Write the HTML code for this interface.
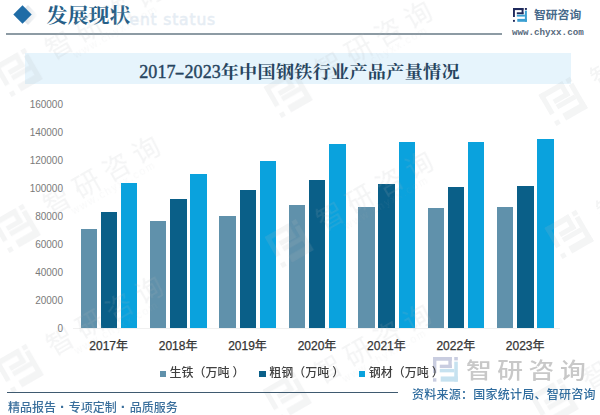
<!DOCTYPE html>
<html><head><meta charset="utf-8"><style>
*{margin:0;padding:0;box-sizing:border-box}
html,body{width:600px;height:415px;overflow:hidden;background:#fff}
body{position:relative;font-family:"Liberation Sans","Noto Sans CJK SC",sans-serif}
.abs{position:absolute}
.bar{position:absolute;width:16.4px}
.yl{position:absolute;left:20px;width:43px;text-align:right;font-size:10px;line-height:14px;color:#7a7a7a;font-family:"Liberation Sans",sans-serif}
.xl{position:absolute;top:339px;width:60px;text-align:center;font-size:12px;line-height:14px;color:#333;-webkit-text-stroke:0.25px #333;font-family:"Liberation Sans","Noto Sans CJK SC",sans-serif}
.lg{position:absolute;z-index:2;top:365px;font-family:"Liberation Sans","Noto Sans CJK SC",sans-serif;font-weight:500;font-size:12px;line-height:16px;color:#404040;white-space:nowrap}
.lg i{position:absolute;left:0;top:5.5px;width:6.6px;height:6.6px}
.lg span{position:absolute;left:10px;top:0}
.lg b{font-weight:inherit;margin-left:3px}
</style></head><body>
<!-- header -->
<div class="abs" style="left:21px;top:7.5px;width:14px;height:14px;background:linear-gradient(to top right,#d9dee4 0%,#e3e7eb 45%,rgba(255,255,255,0) 100%);transform:rotate(45deg)"></div>
<div class="abs" style="left:15.5px;top:8px;width:13px;height:13px;background:#1f6ca6;transform:rotate(45deg)"></div>
<div class="abs" style="left:129.5px;top:10.5px;font-family:'DejaVu Sans',sans-serif;font-size:15.5px;line-height:18px;letter-spacing:0.85px;color:#e6edf4;-webkit-text-stroke:0.5px #e6edf4;white-space:nowrap">ent status</div>
<div class="abs" style="left:46.5px;top:4.1px;font-family:'Liberation Serif','Noto Serif CJK SC',serif;font-weight:700;font-size:21px;line-height:26px;color:#275f88;white-space:nowrap;transform:scaleY(0.96);transform-origin:0 6px">发展现状</div>
<div class="abs" style="left:6px;top:33.2px;width:496px;height:1.5px;background:#8d9ba4"></div>
<!-- logo top right -->
<svg class="abs" style="left:513px;top:8px" width="14" height="14" viewBox="0 0 14 14">
<g fill="#1f2a5c"><rect x="0" y="0" width="10.5" height="2.1"/><rect x="0" y="0" width="1.9" height="9"/><rect x="8.6" y="0" width="1.9" height="6.2"/><rect x="3.8" y="4.3" width="6.7" height="1.9"/><rect x="0" y="11.9" width="1.9" height="1.9"/><rect x="11.9" y="0" width="2" height="1.9"/></g>
<g fill="#3a9fd2"><rect x="11.9" y="2.6" width="2" height="11.2"/><rect x="4.3" y="10.9" width="9.6" height="2.9"/><rect x="3.8" y="6.7" width="8.1" height="1.9"/></g>
</svg>
<div class="abs" style="left:534px;top:6px;font-family:'Liberation Sans','Noto Sans CJK SC',sans-serif;font-weight:700;font-size:11.8px;line-height:18px;color:#46698a;white-space:nowrap">智研咨询</div>
<div class="abs" style="left:512px;top:26px;font-family:'Liberation Mono',monospace;font-weight:bold;font-size:9.2px;line-height:14px;color:#56697c;white-space:nowrap">www.chyxx.com</div>
<!-- title band -->
<div class="abs" style="left:24.5px;top:53px;width:546.5px;height:31px;background:#e6f4fc"></div>
<div class="abs" style="left:139.3px;top:61px;font-family:'Liberation Serif','Noto Serif CJK SC',serif;font-weight:700;font-size:18.1px;line-height:24px;color:#27445e;white-space:nowrap"><span style="font-family:'Liberation Serif',serif;font-weight:normal;-webkit-text-stroke:0.4px #27445e;position:relative;top:-1.3px">2017<span style="display:inline-block;width:9.05px;text-align:center;transform:scaleX(1.6)">-</span>2023</span><span style="display:inline-block;letter-spacing:0.3px;transform:scaleY(0.92);transform-origin:0 4px">年中国钢铁行业产品产量情况</span></div>
<!-- chart -->
<div class="yl" style="top:321.5px">0</div>
<div class="yl" style="top:293.5px">20000</div>
<div class="yl" style="top:265.5px">40000</div>
<div class="yl" style="top:237.5px">60000</div>
<div class="yl" style="top:209.5px">80000</div>
<div class="yl" style="top:181.5px">100000</div>
<div class="yl" style="top:153.5px">120000</div>
<div class="yl" style="top:125.5px">140000</div>
<div class="yl" style="top:97.5px">160000</div>

<div class="abs" style="left:73px;top:328.3px;width:487px;height:1px;background:#f0f0f0"></div>
<div class="bar" style="left:80.50px;top:229.33px;height:98.97px;background:#6091ab"></div>
<div class="bar" style="left:100.70px;top:212.48px;height:115.82px;background:#0a5f88"></div>
<div class="bar" style="left:120.90px;top:182.59px;height:145.71px;background:#0aa2dd"></div>
<div class="bar" style="left:149.92px;top:220.93px;height:107.37px;background:#6091ab"></div>
<div class="bar" style="left:170.12px;top:199.04px;height:129.26px;background:#0a5f88"></div>
<div class="bar" style="left:190.32px;top:174.36px;height:153.94px;background:#0aa2dd"></div>
<div class="bar" style="left:219.34px;top:215.60px;height:112.70px;background:#6091ab"></div>
<div class="bar" style="left:239.54px;top:189.56px;height:138.74px;background:#0a5f88"></div>
<div class="bar" style="left:259.74px;top:160.57px;height:167.73px;background:#0aa2dd"></div>
<div class="bar" style="left:288.76px;top:204.71px;height:123.59px;background:#6091ab"></div>
<div class="bar" style="left:308.96px;top:180.03px;height:148.27px;background:#0a5f88"></div>
<div class="bar" style="left:329.16px;top:143.81px;height:184.49px;background:#0aa2dd"></div>
<div class="bar" style="left:358.18px;top:207.35px;height:120.95px;background:#6091ab"></div>
<div class="bar" style="left:378.38px;top:184.48px;height:143.82px;background:#0a5f88"></div>
<div class="bar" style="left:398.58px;top:142.17px;height:186.13px;background:#0aa2dd"></div>
<div class="bar" style="left:427.60px;top:208.01px;height:120.29px;background:#6091ab"></div>
<div class="bar" style="left:447.80px;top:186.55px;height:141.75px;background:#0a5f88"></div>
<div class="bar" style="left:468.00px;top:141.66px;height:186.64px;background:#0aa2dd"></div>
<div class="bar" style="left:497.02px;top:207.01px;height:121.29px;background:#6091ab"></div>
<div class="bar" style="left:517.22px;top:186.39px;height:141.91px;background:#0a5f88"></div>
<div class="bar" style="left:537.42px;top:138.55px;height:189.75px;background:#0aa2dd"></div>

<div class="xl" style="left:78.7px">2017年</div>
<div class="xl" style="left:148.1px">2018年</div>
<div class="xl" style="left:217.5px">2019年</div>
<div class="xl" style="left:287.0px">2020年</div>
<div class="xl" style="left:356.4px">2021年</div>
<div class="xl" style="left:425.8px">2022年</div>
<div class="xl" style="left:495.2px">2023年</div>

<div class="lg" style="left:159.5px"><i style="background:#6091ab"></i><span>生铁（万吨<b>）</b></span></div>
<div class="lg" style="left:259.3px"><i style="background:#0a5f88"></i><span>粗钢（万吨<b>）</b></span></div>
<div class="lg" style="left:358.8px"><i style="background:#0aa2dd"></i><span>钢材（万吨<b>）</b></span></div>
<!-- diagonal watermarks -->
<svg class="abs" style="left:0;top:0" width="600" height="415" viewBox="0 0 600 415">
<g fill="#b4b8bc" opacity="0.15">
<g transform="translate(19,72) rotate(-30)"><g transform="translate(-19,-18) scale(2.6)"><g ><rect x="0" y="0" width="10.5" height="2.1"/><rect x="0" y="0" width="1.9" height="9"/><rect x="8.6" y="0" width="1.9" height="6.2"/><rect x="3.8" y="4.3" width="6.7" height="1.9"/><rect x="0" y="11.9" width="1.9" height="1.9"/><rect x="11.9" y="0" width="2" height="1.9"/></g>
<g ><rect x="11.9" y="2.6" width="2" height="11.2"/><rect x="4.3" y="10.9" width="9.6" height="2.9"/><rect x="3.8" y="6.7" width="8.1" height="1.9"/></g></g><text x="34.7" y="7" font-family="Liberation Sans, Noto Sans CJK SC, sans-serif" font-weight="400" font-size="27" letter-spacing="7.2">智研咨询</text><text x="56" y="17" font-family="Liberation Sans, sans-serif" font-size="10.5" letter-spacing="1.6" opacity="0.6">www.chyxx.com</text></g>
<g transform="translate(17,228) rotate(-30)"><g transform="translate(-19,-18) scale(2.6)"><g ><rect x="0" y="0" width="10.5" height="2.1"/><rect x="0" y="0" width="1.9" height="9"/><rect x="8.6" y="0" width="1.9" height="6.2"/><rect x="3.8" y="4.3" width="6.7" height="1.9"/><rect x="0" y="11.9" width="1.9" height="1.9"/><rect x="11.9" y="0" width="2" height="1.9"/></g>
<g ><rect x="11.9" y="2.6" width="2" height="11.2"/><rect x="4.3" y="10.9" width="9.6" height="2.9"/><rect x="3.8" y="6.7" width="8.1" height="1.9"/></g></g><text x="34.7" y="7" font-family="Liberation Sans, Noto Sans CJK SC, sans-serif" font-weight="400" font-size="27" letter-spacing="7.2">智研咨询</text><text x="56" y="17" font-family="Liberation Sans, sans-serif" font-size="10.5" letter-spacing="1.6" opacity="0.6">www.chyxx.com</text></g>
<g transform="translate(20,368) rotate(-30)"><g transform="translate(-19,-18) scale(2.6)"><g ><rect x="0" y="0" width="10.5" height="2.1"/><rect x="0" y="0" width="1.9" height="9"/><rect x="8.6" y="0" width="1.9" height="6.2"/><rect x="3.8" y="4.3" width="6.7" height="1.9"/><rect x="0" y="11.9" width="1.9" height="1.9"/><rect x="11.9" y="0" width="2" height="1.9"/></g>
<g ><rect x="11.9" y="2.6" width="2" height="11.2"/><rect x="4.3" y="10.9" width="9.6" height="2.9"/><rect x="3.8" y="6.7" width="8.1" height="1.9"/></g></g><text x="34.7" y="7" font-family="Liberation Sans, Noto Sans CJK SC, sans-serif" font-weight="400" font-size="27" letter-spacing="7.2">智研咨询</text><text x="56" y="17" font-family="Liberation Sans, sans-serif" font-size="10.5" letter-spacing="1.6" opacity="0.6">www.chyxx.com</text></g>
<g transform="translate(289,93) rotate(-30)"><g transform="translate(-19,-18) scale(2.6)"><g ><rect x="0" y="0" width="10.5" height="2.1"/><rect x="0" y="0" width="1.9" height="9"/><rect x="8.6" y="0" width="1.9" height="6.2"/><rect x="3.8" y="4.3" width="6.7" height="1.9"/><rect x="0" y="11.9" width="1.9" height="1.9"/><rect x="11.9" y="0" width="2" height="1.9"/></g>
<g ><rect x="11.9" y="2.6" width="2" height="11.2"/><rect x="4.3" y="10.9" width="9.6" height="2.9"/><rect x="3.8" y="6.7" width="8.1" height="1.9"/></g></g><text x="34.7" y="7" font-family="Liberation Sans, Noto Sans CJK SC, sans-serif" font-weight="400" font-size="27" letter-spacing="7.2">智研咨询</text><text x="56" y="17" font-family="Liberation Sans, sans-serif" font-size="10.5" letter-spacing="1.6" opacity="0.6">www.chyxx.com</text></g>
<g transform="translate(290,243) rotate(-30)"><g transform="translate(-19,-18) scale(2.6)"><g ><rect x="0" y="0" width="10.5" height="2.1"/><rect x="0" y="0" width="1.9" height="9"/><rect x="8.6" y="0" width="1.9" height="6.2"/><rect x="3.8" y="4.3" width="6.7" height="1.9"/><rect x="0" y="11.9" width="1.9" height="1.9"/><rect x="11.9" y="0" width="2" height="1.9"/></g>
<g ><rect x="11.9" y="2.6" width="2" height="11.2"/><rect x="4.3" y="10.9" width="9.6" height="2.9"/><rect x="3.8" y="6.7" width="8.1" height="1.9"/></g></g><text x="34.7" y="7" font-family="Liberation Sans, Noto Sans CJK SC, sans-serif" font-weight="400" font-size="27" letter-spacing="7.2">智研咨询</text><text x="56" y="17" font-family="Liberation Sans, sans-serif" font-size="10.5" letter-spacing="1.6" opacity="0.6">www.chyxx.com</text></g>
<g transform="translate(288,396) rotate(-30)"><g transform="translate(-19,-18) scale(2.6)"><g ><rect x="0" y="0" width="10.5" height="2.1"/><rect x="0" y="0" width="1.9" height="9"/><rect x="8.6" y="0" width="1.9" height="6.2"/><rect x="3.8" y="4.3" width="6.7" height="1.9"/><rect x="0" y="11.9" width="1.9" height="1.9"/><rect x="11.9" y="0" width="2" height="1.9"/></g>
<g ><rect x="11.9" y="2.6" width="2" height="11.2"/><rect x="4.3" y="10.9" width="9.6" height="2.9"/><rect x="3.8" y="6.7" width="8.1" height="1.9"/></g></g><text x="34.7" y="7" font-family="Liberation Sans, Noto Sans CJK SC, sans-serif" font-weight="400" font-size="27" letter-spacing="7.2">智研咨询</text><text x="56" y="17" font-family="Liberation Sans, sans-serif" font-size="10.5" letter-spacing="1.6" opacity="0.6">www.chyxx.com</text></g>
<g transform="translate(564,101) rotate(-30)"><g transform="translate(-19,-18) scale(2.6)"><g ><rect x="0" y="0" width="10.5" height="2.1"/><rect x="0" y="0" width="1.9" height="9"/><rect x="8.6" y="0" width="1.9" height="6.2"/><rect x="3.8" y="4.3" width="6.7" height="1.9"/><rect x="0" y="11.9" width="1.9" height="1.9"/><rect x="11.9" y="0" width="2" height="1.9"/></g>
<g ><rect x="11.9" y="2.6" width="2" height="11.2"/><rect x="4.3" y="10.9" width="9.6" height="2.9"/><rect x="3.8" y="6.7" width="8.1" height="1.9"/></g></g><text x="34.7" y="7" font-family="Liberation Sans, Noto Sans CJK SC, sans-serif" font-weight="400" font-size="27" letter-spacing="7.2">智研咨询</text><text x="56" y="17" font-family="Liberation Sans, sans-serif" font-size="10.5" letter-spacing="1.6" opacity="0.6">www.chyxx.com</text></g>
<g transform="translate(570,234) rotate(-30)"><g transform="translate(-19,-18) scale(2.6)"><g ><rect x="0" y="0" width="10.5" height="2.1"/><rect x="0" y="0" width="1.9" height="9"/><rect x="8.6" y="0" width="1.9" height="6.2"/><rect x="3.8" y="4.3" width="6.7" height="1.9"/><rect x="0" y="11.9" width="1.9" height="1.9"/><rect x="11.9" y="0" width="2" height="1.9"/></g>
<g ><rect x="11.9" y="2.6" width="2" height="11.2"/><rect x="4.3" y="10.9" width="9.6" height="2.9"/><rect x="3.8" y="6.7" width="8.1" height="1.9"/></g></g><text x="34.7" y="7" font-family="Liberation Sans, Noto Sans CJK SC, sans-serif" font-weight="400" font-size="27" letter-spacing="7.2">智研咨询</text><text x="56" y="17" font-family="Liberation Sans, sans-serif" font-size="10.5" letter-spacing="1.6" opacity="0.6">www.chyxx.com</text></g>
<g transform="translate(555,402) rotate(-30)"><g transform="translate(-19,-18) scale(2.6)"><g ><rect x="0" y="0" width="10.5" height="2.1"/><rect x="0" y="0" width="1.9" height="9"/><rect x="8.6" y="0" width="1.9" height="6.2"/><rect x="3.8" y="4.3" width="6.7" height="1.9"/><rect x="0" y="11.9" width="1.9" height="1.9"/><rect x="11.9" y="0" width="2" height="1.9"/></g>
<g ><rect x="11.9" y="2.6" width="2" height="11.2"/><rect x="4.3" y="10.9" width="9.6" height="2.9"/><rect x="3.8" y="6.7" width="8.1" height="1.9"/></g></g><text x="34.7" y="7" font-family="Liberation Sans, Noto Sans CJK SC, sans-serif" font-weight="400" font-size="27" letter-spacing="7.2">智研咨询</text><text x="56" y="17" font-family="Liberation Sans, sans-serif" font-size="10.5" letter-spacing="1.6" opacity="0.6">www.chyxx.com</text></g>

</g>
</svg>
<!-- bottom right watermark -->
<svg class="abs" style="left:432.5px;top:356.5px" width="25" height="25" viewBox="0 0 14 14">
<g fill="#c9cde0"><rect x="0" y="0" width="10.5" height="2.1"/><rect x="0" y="0" width="1.9" height="9"/><rect x="8.6" y="0" width="1.9" height="6.2"/><rect x="3.8" y="4.3" width="6.7" height="1.9"/><rect x="0" y="11.9" width="1.9" height="1.9"/><rect x="11.9" y="0" width="2" height="1.9"/></g>
<g fill="#c6e2f0"><rect x="11.9" y="2.6" width="2" height="11.2"/><rect x="4.3" y="10.9" width="9.6" height="2.9"/><rect x="3.8" y="6.7" width="8.1" height="1.9"/></g>
</svg>
<div class="abs" style="left:466px;top:353px;font-family:'Liberation Sans','Noto Sans CJK SC',sans-serif;font-weight:500;font-size:25px;line-height:34px;letter-spacing:5.4px;color:#c8c8c8;white-space:nowrap;transform:scale(1.03,0.88);transform-origin:0 18px">智研咨询</div>
<!-- footer -->
<div class="abs" style="left:6.5px;top:392.3px;width:391px;height:1.2px;background:#3f5a70"></div>
<div class="abs" style="left:8px;top:398.5px;font-family:'Liberation Sans','Noto Sans CJK SC',sans-serif;font-weight:500;font-size:12px;line-height:16px;word-spacing:0.6px;color:#3a6f9c;white-space:nowrap">精品报告 <b style="font-size:15px">·</b> 专项定制 <b style="font-size:15px">·</b> 品质服务</div>
<div class="abs" style="left:412px;top:387px;font-family:'Liberation Sans','Noto Sans CJK SC',sans-serif;font-weight:500;font-size:12px;line-height:17px;letter-spacing:0.25px;color:#2f6c9e;white-space:nowrap">资料来源：国家统计局、智研咨询</div>
</body></html>
